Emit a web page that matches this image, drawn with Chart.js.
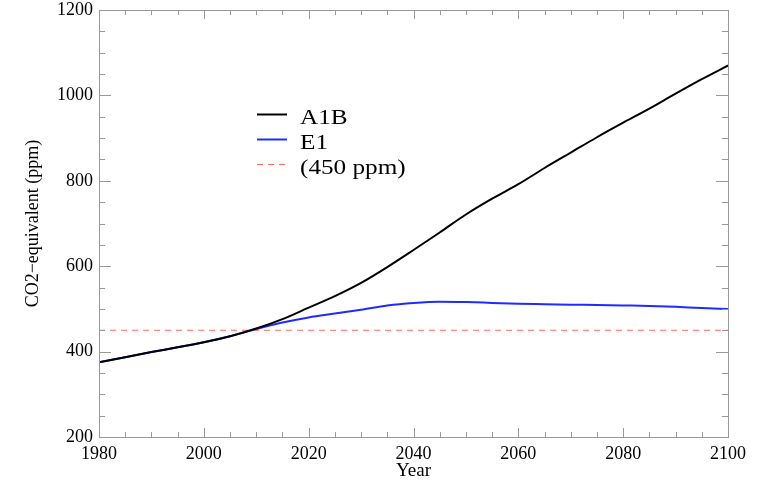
<!DOCTYPE html>
<html>
<head>
<meta charset="utf-8">
<script src="https://cdn.jsdelivr.net/npm/chart.js@4/dist/chart.umd.min.js"></script>
<style>
html,body{margin:0;padding:0;background:#fff;}
#wrap{width:769px;height:482px;position:relative;}
</style>
</head>
<body>
<div id="wrap"><canvas id="c" width="769" height="482"></canvas></div>
<script>
const years = [1980,1985,1990,1995,2000,2005,2010,2015,2020,2025,2030,2035,2040,2045,2050,2055,2060,2065,2070,2075,2080,2085,2090,2095,2100];
const a1b   = [375,387,399,410,422,436,454,476,503,530,561,598,638,679,721,758,792,830,866,902,936,969,1004,1038,1070];
const e1    = [375,387,399,410,422,436,453,468,480,489,498,508,514,517,516,514,512,511,510,509,508,507,505,502,500];
const refLevel = 450;
const xTickLabels = [1980,2000,2020,2040,2060,2080,2100];
const yTickLabels = [200,400,600,800,1000,1200];
const seriesNames = ['A1B','E1','(450 ppm)'];

const toPts = (ys) => years.map((x,i)=>({x:x,y:ys[i]}));
const serif = "'Liberation Serif','Times New Roman',serif";

const framePlugin = {
  id:'frame',
  afterDatasetsDraw(chart){
    const ctx = chart.ctx, a = chart.chartArea;
    const xs = chart.scales.x, ys = chart.scales.y;
    ctx.save();
    ctx.strokeStyle = '#999';
    ctx.lineWidth = 1;
    ctx.strokeRect(Math.round(a.left)+0.5, Math.round(a.top)+0.5, Math.round(a.right-a.left), Math.round(a.bottom-a.top));
    ctx.beginPath();
    xs.ticks.forEach(t=>{
      const px = Math.round(xs.getPixelForValue(t.value))+0.5;
      const len = xTickLabels.includes(t.value) ? 9 : 5;
      ctx.moveTo(px, a.bottom); ctx.lineTo(px, a.bottom-len);
      ctx.moveTo(px, a.top); ctx.lineTo(px, a.top+len);
    });
    ys.ticks.forEach(t=>{
      const py = Math.round(ys.getPixelForValue(t.value))+0.5;
      const len = yTickLabels.includes(t.value) ? 12 : 6;
      ctx.moveTo(a.left, py); ctx.lineTo(a.left+len, py);
      ctx.moveTo(a.right, py); ctx.lineTo(a.right-len, py);
    });
    ctx.stroke();
    // legend
    const lx0 = a.left + 158, lx1 = a.left + 188, tx = a.left + 201;
    const rows = [104, 129, 154];
    chart.data.datasets.forEach((ds,i)=>{
      const ly = a.top + rows[i];
      ctx.beginPath();
      ctx.strokeStyle = ds.borderColor;
      ctx.lineWidth = ds.borderWidth;
      ctx.setLineDash(ds.borderDash || []);
      ctx.moveTo(lx0, ly+0.5); ctx.lineTo(lx1, ly+0.5);
      ctx.stroke();
      ctx.setLineDash([]);
      ctx.save();
      ctx.translate(tx, ly + 9.5);
      ctx.scale(1.2, 1);
      ctx.fillStyle = '#000';
      ctx.font = "21px " + serif;
      ctx.textBaseline = 'alphabetic';
      ctx.fillText(ds.label, 0, 0);
      ctx.restore();
    });
    ctx.restore();
  }
};

new Chart(document.getElementById('c'), {
  type:'line',
  data:{
    datasets:[
      {label:seriesNames[0], data:toPts(a1b), borderColor:'#000000', borderWidth:2, pointRadius:0, cubicInterpolationMode:'monotone', fill:false},
      {label:seriesNames[1], data:toPts(e1), borderColor:'#1f2bff', borderWidth:2, pointRadius:0, cubicInterpolationMode:'monotone', fill:false},
      {label:seriesNames[2], data:[{x:years[0],y:refLevel},{x:years[years.length-1],y:refLevel}], borderColor:'#ff6b5e', borderWidth:1, borderDash:[6,5], pointRadius:0, fill:false}
    ]
  },
  options:{
    responsive:false,
    animation:false,
    layout:{padding:{left:0,right:41,top:10,bottom:0}},
    plugins:{legend:{display:false}, tooltip:{enabled:false}},
    scales:{
      x:{
        type:'linear', min:1980, max:2100,
        afterFit(s){ s.height = 45; s.paddingLeft = 0; s.paddingRight = 0; },
        grid:{display:false, drawTicks:false}, border:{display:false},
        ticks:{stepSize:5, autoSkip:false, maxRotation:0, padding:6, color:'#000',
          font:{family:serif, size:18},
          callback:(v)=> xTickLabels.includes(v) ? String(v) : ''},
        title:{display:true, text:'Year', color:'#000', font:{family:serif, size:19}, padding:{top:0,bottom:0}}
      },
      y:{
        type:'linear', min:200, max:1200,
        afterFit(s){ s.width = 99; s.paddingTop = 0; s.paddingBottom = 0; },
        grid:{display:false, drawTicks:false}, border:{display:false},
        ticks:{stepSize:50, autoSkip:false, padding:6, color:'#000',
          font:{family:serif, size:18},
          callback:(v)=> yTickLabels.includes(v) ? String(v) : ''},
        title:{display:true, text:'CO2\u2212equivalent (ppm)', color:'#000', font:{family:serif, size:18}, padding:{top:22,bottom:0}}
      }
    }
  },
  plugins:[framePlugin]
});
</script>
</body>
</html>
